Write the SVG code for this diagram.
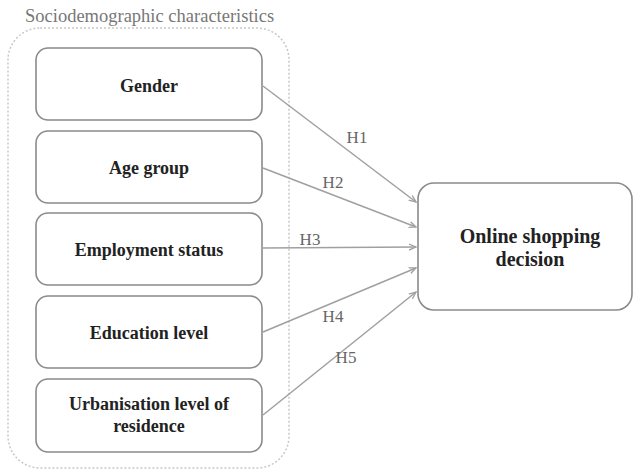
<svg xmlns="http://www.w3.org/2000/svg" width="634" height="470" viewBox="0 0 634 470">
<style>
.box{fill:#fff;stroke:#8a8a8a;stroke-width:1.6}
.lbl{font-family:"Liberation Serif","Times New Roman",serif;font-weight:bold;font-size:18px;fill:#222;text-anchor:middle}
.h{font-family:"Liberation Serif","Times New Roman",serif;font-size:17px;fill:#666;text-anchor:middle}
.title{font-family:"Liberation Serif","Times New Roman",serif;font-size:18.5px;fill:#777}
.con{stroke:#a0a0a0;stroke-width:1.5;fill:none;marker-end:url(#ah)}
</style>
<defs>
<marker id="ah" markerWidth="8" markerHeight="8" refX="7" refY="4" orient="auto" markerUnits="userSpaceOnUse">
<path d="M0,1 L7,4 L0,7" fill="none" stroke="#a0a0a0" stroke-width="1.3"/>
</marker>
</defs>
<rect width="634" height="470" fill="#fff"/>
<g id="group">
<text class="title" x="25" y="22">Sociodemographic characteristics</text>
<rect x="8" y="28" width="281" height="440" rx="32" fill="none" stroke="#c8c8c8" stroke-width="1.5" stroke-dasharray="2,2"/>
</g>
<g id="gender"><rect class="box" x="36" y="48" width="226" height="72" rx="12"/><text class="lbl" x="149" y="92">Gender</text></g>
<g id="age"><rect class="box" x="36" y="131" width="226" height="72" rx="12"/><text class="lbl" x="149" y="174">Age group</text></g>
<g id="employment"><rect class="box" x="36" y="213" width="226" height="72" rx="12"/><text class="lbl" x="149" y="256">Employment status</text></g>
<g id="education"><rect class="box" x="36" y="296" width="226" height="72" rx="12"/><text class="lbl" x="149" y="339">Education level</text></g>
<g id="urban"><rect class="box" x="36" y="379" width="226" height="73" rx="12"/><text class="lbl" x="149" y="410">Urbanisation level of</text><text class="lbl" x="149" y="432">residence</text></g>
<g id="decision"><rect class="box" x="418" y="183" width="214" height="127" rx="16"/><text class="lbl" x="530" y="243" style="font-size:20px">Online shopping</text><text class="lbl" x="530" y="266" style="font-size:20px">decision</text></g>
<g id="connectors">
<line class="con" x1="263" y1="86" x2="416" y2="202"/>
<line class="con" x1="263" y1="168" x2="416" y2="227"/>
<line class="con" x1="263" y1="248" x2="416" y2="247"/>
<line class="con" x1="263" y1="332" x2="416" y2="268"/>
<line class="con" x1="263" y1="415" x2="416" y2="292"/>
<text class="h" x="357" y="143">H1</text>
<text class="h" x="333" y="188">H2</text>
<text class="h" x="310" y="245">H3</text>
<text class="h" x="333" y="322">H4</text>
<text class="h" x="346" y="363">H5</text>
</g>
</svg>
